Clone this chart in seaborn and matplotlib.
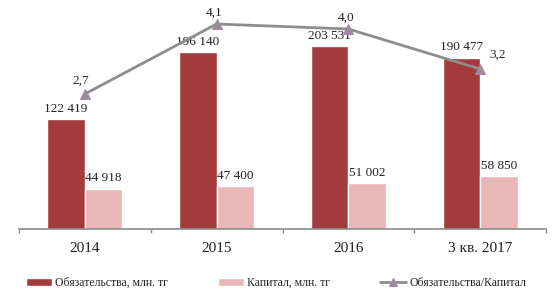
import numpy as np
import pandas as pd
import matplotlib
matplotlib.use("Agg")
import matplotlib.pyplot as plt
import seaborn as sns

# data
periods = ["2014", "2015", "2016", "3 кв. 2017"]
liabilities = [122419, 196140, 203531, 190477]
capital = [44918, 47400, 51002, 58850]
ratio = [2.7, 4.1, 4.0, 3.2]
ratio_labels = ["2,7", "4,1", "4,0", "3,2"]

name_liab = "Обязательства, млн. тг"
name_cap = "Капитал, млн. тг"
name_ratio = "Обязательства/Капитал"

dark = "#A33A3B"
light = "#E9B7B8"
line_col = "#8E8C8F"

sns.set_style("white")
plt.rcParams["font.family"] = ["Liberation Serif", "DejaVu Serif"]

df = pd.DataFrame({
    "period": periods * 2,
    "value": liabilities + capital,
    "series": [name_liab] * len(periods) + [name_cap] * len(periods),
})

fig = plt.figure(figsize=(5.52, 2.94), dpi=100)
ax = fig.add_axes([19 / 552, 1 - 229 / 294, 527 / 552, 225 / 294])

sns.barplot(data=df, x="period", y="value", hue="series", order=periods,
            palette=[dark, light], width=0.57, saturation=1, ax=ax)

fmt = lambda v: f"{v:,.0f}".replace(",", " ")
for cont in ax.containers:
    ax.bar_label(cont, labels=[fmt(b.get_height()) for b in cont],
                 padding=3, fontsize=9.5, color="#222222")

ax.set_ylim(0, 250000)
ax.set_xlim(-0.5, len(periods) - 0.5)
ax.set_xlabel("")
ax.set_ylabel("")
ax.set_yticks([])
ax.set_xticks(np.arange(-0.5, len(periods)), labels=[""] * (len(periods) + 1))
ax.set_xticks(np.arange(len(periods)), labels=periods, minor=True)
ax.tick_params(axis="x", which="major", direction="out", length=3,
               width=1, color="#8a8a8a", bottom=True)
ax.tick_params(axis="x", which="minor", length=0, pad=9, labelsize=11,
               labelcolor="#222222")
for s in ["top", "right", "left"]:
    ax.spines[s].set_visible(False)
ax.spines["bottom"].set_color("#8a8a8a")
ax.spines["bottom"].set_linewidth(1.2)

handles, labels = ax.get_legend_handles_labels()
ax.get_legend().remove()

ax2 = ax.twinx()
sns.lineplot(x=np.arange(len(periods)), y=ratio, color=line_col, lw=2,
             marker="^", markersize=7, markerfacecolor="#9C8C9E",
             markeredgecolor="#9C8C9E", ax=ax2, label=name_ratio)
ax2.set_ylim(0, 4.5)
ax2.set_yticks([])
ax2.set_xlim(-0.5, len(periods) - 0.5)
for s in ["top", "right", "left", "bottom"]:
    ax2.spines[s].set_visible(False)

offsets = [(-4, 13), (-3, 11), (-2, 11), (17, 14)]
for i, (lab, (dx, dy)) in enumerate(zip(ratio_labels, offsets)):
    ax2.annotate(lab, (i, ratio[i]), xytext=(dx, dy), textcoords="offset pixels",
                 ha="center", va="center", fontsize=9.5, color="#222222")

h2, l2 = ax2.get_legend_handles_labels()
ax2.get_legend().remove()

fig.legend(handles + h2, labels + l2, loc="center", bbox_to_anchor=(0.5, 11 / 294),
           ncol=3, frameon=False, fontsize=8.5, handlelength=2.2,
           handleheight=0.6, columnspacing=4.2, handletextpad=0.3,
           markerscale=0.8)

fig.savefig("out.png", dpi=100)
